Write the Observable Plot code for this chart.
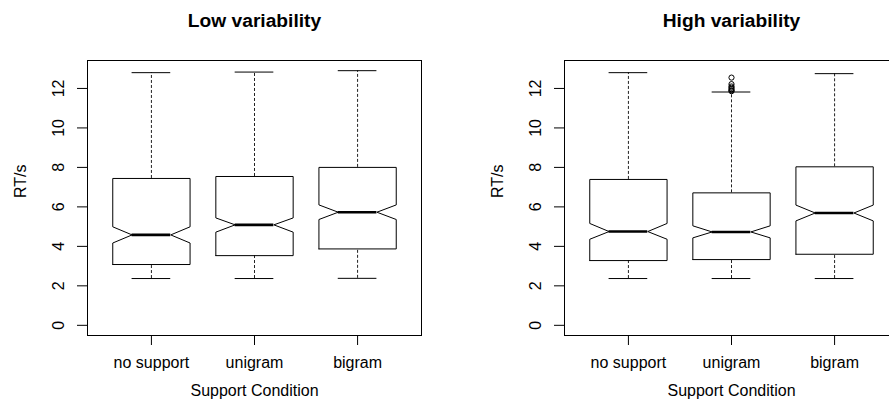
<!DOCTYPE html>
<html>
<head>
<meta charset="utf-8">
<script src="https://cdn.jsdelivr.net/npm/d3@7"></script>
<script src="https://cdn.jsdelivr.net/npm/@observablehq/plot@0.6"></script>
<style>
  html, body { margin: 0; padding: 0; background: #fff; }
  #wrap { position: relative; width: 889px; height: 413px; overflow: hidden; background: #fff; }
  .panel { position: absolute; top: 0; width: 477px; height: 413px; }
  .panel svg { max-width: none !important; }
</style>
</head>
<body>
<div id="wrap"></div>
<script>
// ---------- data ----------
const categories = ["no support", "unigram", "bigram"];
const yTicks = [0, 2, 4, 6, 8, 10, 12];
const panelTitles = ["Low variability", "High variability"];
const xLabel = "Support Condition";
const yLabel = "RT/s";

// Low variability
const lowWhiskerLo = [2.37, 2.37, 2.38];
const lowQ1        = [3.08, 3.53, 3.87];
const lowNotchLo   = [4.17, 4.72, 5.36];
const lowMedian    = [4.58, 5.09, 5.73];
const lowNotchHi   = [4.99, 5.44, 6.10];
const lowQ3        = [7.44, 7.54, 8.00];
const lowWhiskerHi = [12.80, 12.83, 12.90];
const lowOutlierCat = [];
const lowOutliers   = [];

// High variability
const highWhiskerLo = [2.37, 2.37, 2.37];
const highQ1        = [3.28, 3.33, 3.60];
const highNotchLo   = [4.36, 4.43, 5.29];
const highMedian    = [4.75, 4.73, 5.69];
const highNotchHi   = [5.16, 5.04, 6.09];
const highQ3        = [7.39, 6.71, 8.03];
const highWhiskerHi = [12.80, 11.82, 12.75];
const highOutlierCat = ["unigram", "unigram", "unigram", "unigram", "unigram", "unigram", "unigram"];
const highOutliers   = [11.86, 11.90, 11.96, 12.03, 12.10, 12.22, 12.55];

// ---------- layout / style constants ----------
const PANEL_W = 477, H = 413;
const BOX_HALF = 0.375;     // half box width, in x units
const STAPLE_HALF = 0.1875; // half staple width
const NOTCH_HALF = 0.1875;  // half width at the median (notch)
const FONT = "'Liberation Sans', Arial, Helvetica, sans-serif";

function buildStats(lo, q1, nlo, med, nhi, q3, hi) {
  return categories.map((c, i) => ({
    cat: c, pos: i + 1,
    lo: lo[i], q1: q1[i], nlo: nlo[i], med: med[i], nhi: nhi[i], q3: q3[i], hi: hi[i]
  }));
}

function notchPolygon(stats) {
  const pts = [];
  for (const s of stats) {
    const x = s.pos;
    const seq = [
      [x - BOX_HALF, s.q1], [x - BOX_HALF, s.nlo], [x - NOTCH_HALF, s.med], [x - BOX_HALF, s.nhi],
      [x - BOX_HALF, s.q3], [x + BOX_HALF, s.q3], [x + BOX_HALF, s.nhi], [x + NOTCH_HALF, s.med],
      [x + BOX_HALF, s.nlo], [x + BOX_HALF, s.q1], [x - BOX_HALF, s.q1]
    ];
    for (const [px, py] of seq) pts.push({cat: s.cat, x: px, y: py});
  }
  return pts;
}

function panel(title, stats, outCats, outVals) {
  const outliers = outVals.map((v, i) => ({pos: categories.indexOf(outCats[i]) + 1, v}));
  return Plot.plot({
    width: PANEL_W,
    height: H,
    marginTop: 60,
    marginBottom: 78,
    marginLeft: 87,
    marginRight: 56,
    style: {fontFamily: FONT, fontSize: "16px", color: "#000", background: "#fff", overflow: "visible", maxWidth: "none"},
    x: {domain: [0.38, 3.62], axis: null},
    y: {domain: [-0.516, 13.416], axis: null},
    marks: [
      // whiskers (dashed)
      Plot.ruleX(stats, {x: "pos", y1: "q3", y2: "hi", stroke: "#222", strokeWidth: 1, strokeDasharray: "3,2"}),
      Plot.ruleX(stats, {x: "pos", y1: "lo", y2: "q1", stroke: "#222", strokeWidth: 1, strokeDasharray: "3,2"}),
      // staples
      Plot.ruleY(stats, {y: "hi", x1: d => d.pos - STAPLE_HALF, x2: d => d.pos + STAPLE_HALF, stroke: "#000", strokeWidth: 1}),
      Plot.ruleY(stats, {y: "lo", x1: d => d.pos - STAPLE_HALF, x2: d => d.pos + STAPLE_HALF, stroke: "#000", strokeWidth: 1}),
      // notched boxes
      Plot.line(notchPolygon(stats), {x: "x", y: "y", z: "cat", stroke: "#000", strokeWidth: 1, curve: "linear"}),
      // medians
      Plot.ruleY(stats, {y: "med", x1: d => d.pos - NOTCH_HALF, x2: d => d.pos + NOTCH_HALF, stroke: "#000", strokeWidth: 2.6}),
      // outliers
      Plot.dot(outliers, {x: "pos", y: "v", r: 2.6, stroke: "#000", strokeWidth: 1, fill: "none"}),
      // frame
      Plot.frame({stroke: "#000", strokeWidth: 1}),
      // y axis with labels parallel to the axis
      Plot.axisY(yTicks, {anchor: "left", tickSize: 10, tickPadding: 13.5, tickRotate: -90, stroke: "#000", fill: "#000", label: null, fontSize: 16}),
      // x axis
      Plot.axisX([1, 2, 3], {anchor: "bottom", tickSize: 10, tickPadding: 11.6, tickFormat: d => categories[d - 1], stroke: "#000", fill: "#000", label: null, fontSize: 16}),
      // axis titles
      Plot.text([xLabel], {frameAnchor: "bottom", lineAnchor: "bottom", dy: 60, fontSize: 16, fill: "#000"}),
      Plot.text([yLabel], {frameAnchor: "left", lineAnchor: "bottom", rotate: -90, dx: -62, fontSize: 16, fill: "#000"}),
      // panel title
      Plot.text([title], {frameAnchor: "top", lineAnchor: "bottom", dy: -33.3, fontSize: 19.2, fontWeight: "bold", fill: "#000"})
    ]
  });
}

const wrap = document.getElementById("wrap");
const p1 = panel(panelTitles[0],
  buildStats(lowWhiskerLo, lowQ1, lowNotchLo, lowMedian, lowNotchHi, lowQ3, lowWhiskerHi),
  lowOutlierCat, lowOutliers);
const p2 = panel(panelTitles[1],
  buildStats(highWhiskerLo, highQ1, highNotchLo, highMedian, highNotchHi, highQ3, highWhiskerHi),
  highOutlierCat, highOutliers);
const d1 = document.createElement("div"); d1.className = "panel"; d1.style.left = "0px"; d1.appendChild(p1);
const d2 = document.createElement("div"); d2.className = "panel"; d2.style.left = PANEL_W + "px"; d2.appendChild(p2);
wrap.appendChild(d1); wrap.appendChild(d2);
</script>
</body>
</html>
